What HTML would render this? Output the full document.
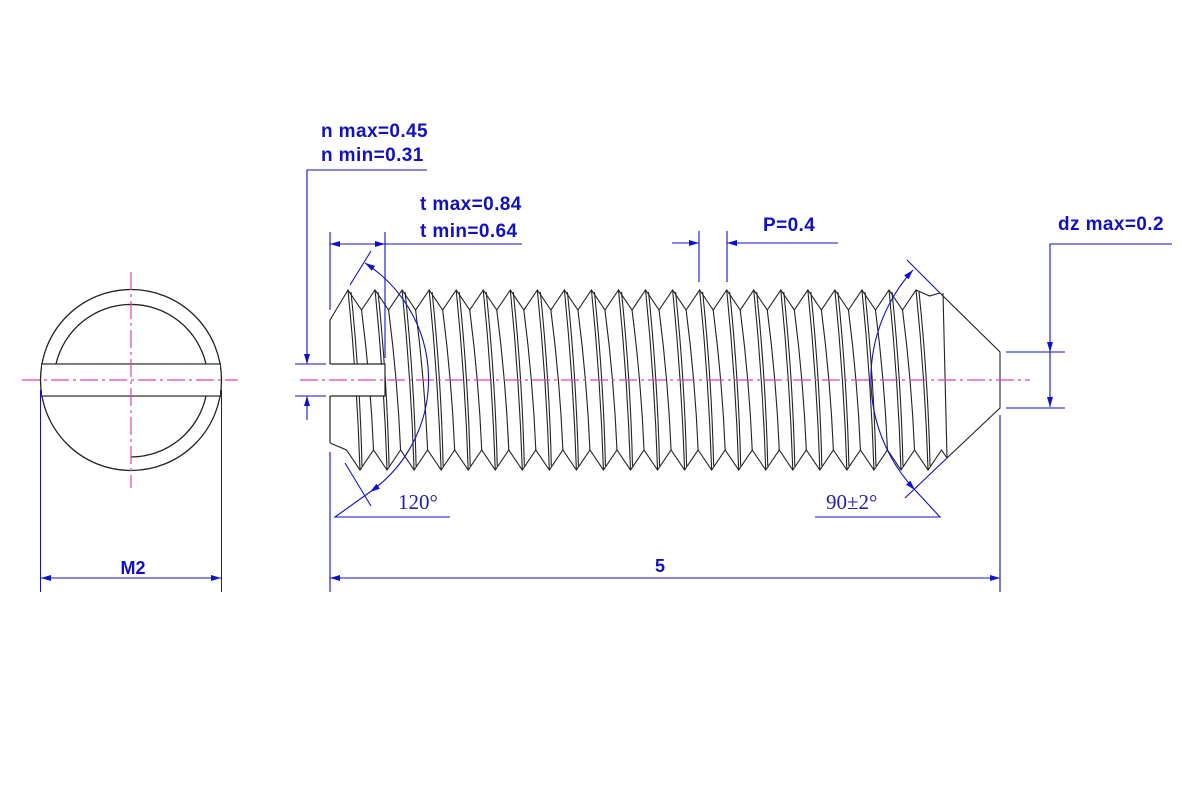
<!DOCTYPE html>
<html><head><meta charset="utf-8"><style>
html,body{margin:0;padding:0;background:#fff;}
svg{display:block}
.t{font-family:"Liberation Sans",Arial,sans-serif;font-weight:bold;font-size:19px;letter-spacing:0.4px;fill:#1010c8}
.m{font-family:"Liberation Sans",Arial,sans-serif;font-weight:bold;font-size:18px;fill:#1010c8}
.s{font-family:"Liberation Serif",serif;font-size:21px;fill:#2020b0}
</style></head><body>
<svg id="sv" width="1200" height="800" viewBox="0 0 1200 800" xmlns="http://www.w3.org/2000/svg">
<defs>
<marker id="a" viewBox="0 0 10 6" refX="10" refY="3" markerWidth="10" markerHeight="6" orient="auto-start-reverse" markerUnits="userSpaceOnUse"><path d="M0,0 L10,3 L0,6 z" fill="#1010d0"/></marker>
</defs>
<!-- left view -->
<g fill="none" stroke="#222" stroke-width="1.3">
<circle cx="131" cy="380" r="90.5"/>
<path d="M56,364 A77,77 0 0 1 206,364"/>
<path d="M206,396 A77,77 0 0 1 131,457"/>
<line x1="41" y1="364" x2="221" y2="364"/>
<line x1="41" y1="396" x2="221" y2="396"/>
</g>
<rect x="42" y="364.7" width="178" height="30.6" fill="#fff"/>
<g stroke="#e040c0" stroke-width="1.2" stroke-dasharray="18,4,3,4" fill="none">
<line x1="22" y1="380" x2="238" y2="380"/>
<line x1="131" y1="272" x2="131" y2="488"/>
</g>
<g stroke="#1010d0" stroke-width="1" fill="none">
<line x1="40.5" y1="390" x2="40.5" y2="592"/>
<line x1="221.5" y1="390" x2="221.5" y2="592"/>
<line x1="41" y1="578" x2="221" y2="578" marker-start="url(#a)" marker-end="url(#a)"/>
</g>
<text class="m" x="133" y="574" text-anchor="middle">M2</text>

<!-- side view threads -->
<g id="th" fill="none" stroke="#222" stroke-width="1.1"></g>
<rect x="331" y="364" width="54" height="32" fill="#fff"/>
<g fill="none" stroke="#222" stroke-width="1.2">
<polyline points="330,364 385,364 385,396 330,396"/>
<line x1="330" y1="320" x2="330" y2="364"/>
<line x1="330" y1="396" x2="330" y2="443"/>
</g>
<g stroke="#e040c0" stroke-width="1.2" stroke-dasharray="18,4,3,4" fill="none">
<line x1="300" y1="380" x2="1030" y2="380"/>
</g>

<!-- dimensions -->
<g stroke="#1010d0" stroke-width="1.1" fill="none">
<polyline points="427,170 307,170 307,364" marker-end="url(#a)"/>
<line x1="307" y1="420" x2="307" y2="396" marker-end="url(#a)"/>
<line x1="295" y1="364" x2="326" y2="364"/>
<line x1="295" y1="396" x2="326" y2="396"/>
<line x1="330" y1="232" x2="330" y2="310"/>
<line x1="385" y1="232" x2="385" y2="358"/>
<line x1="330" y1="244" x2="385" y2="244" marker-start="url(#a)" marker-end="url(#a)"/>
<line x1="385" y1="244" x2="522" y2="244"/>
<line x1="699" y1="231" x2="699" y2="282"/>
<line x1="727" y1="231" x2="727" y2="282"/>
<line x1="672" y1="243" x2="699" y2="243" marker-end="url(#a)"/>
<line x1="838" y1="243" x2="727" y2="243" marker-end="url(#a)"/>
<polyline points="1172,244 1050,244 1050,352" marker-end="url(#a)"/>
<line x1="1050" y1="352" x2="1050" y2="407" marker-end="url(#a)"/>
<line x1="1006" y1="352" x2="1065" y2="352"/>
<line x1="1006" y1="408" x2="1065" y2="408"/>
<line x1="330" y1="452" x2="330" y2="592"/>
<line x1="1000" y1="415" x2="1000" y2="592"/>
<line x1="330" y1="578" x2="1000" y2="578" marker-start="url(#a)" marker-end="url(#a)"/>
<line x1="350" y1="285" x2="371" y2="251"/>
<line x1="345" y1="463" x2="371" y2="506"/>
<path d="M365,263 A138,138 0 0 1 370,492" marker-start="url(#a)" marker-end="url(#a)"/>
<polyline points="370,492 335,517 450,517"/>
<line x1="907" y1="260" x2="940" y2="293"/>
<line x1="905" y1="498" x2="947" y2="458"/>
<path d="M913,270 A162,162 0 0 0 915,490" marker-start="url(#a)" marker-end="url(#a)"/>
<polyline points="915,490 940,517 815,517"/>
</g>
<text class="t" x="321" y="137">n max=0.45</text>
<text class="t" x="321" y="161">n min=0.31</text>
<text class="t" x="420" y="210">t max=0.84</text>
<text class="t" x="420" y="237">t min=0.64</text>
<text class="t" x="763" y="231">P=0.4</text>
<text class="t" x="1058" y="230">dz max=0.2</text>
<text class="m" x="660" y="572" text-anchor="middle">5</text>
<text class="s" x="398" y="509">120°</text>
<text class="s" x="826" y="509">90±2°</text>
</svg>
<script>
(function(){
var g=document.getElementById('th');var P=27.05,c0=348,N=22;
function ln(d){var p=document.createElementNS('http://www.w3.org/2000/svg','path');p.setAttribute('d',d);g.appendChild(p);}
var top='M330,320 L'+c0+',290';
for(var i=0;i<N;i++){var c=c0+i*P;top+=' L'+c+',290 L'+(c+P/2)+','+(i==N-1?296:310);}
top+=' L940,293 L1000,352 L1000,408 L947,458';
var bot='M330,443 L'+(c0-1.5)+',450';
for(var i=0;i<N;i++){var b=c0+12+i*P;bot+=' L'+b+',470 L'+(b+P/2)+',450';}
bot+=' L947,458';
ln(top);ln(bot);
ln('M943,293 L947,458');
for(var i=0;i<N;i++){var c=c0+i*P;
 ln('M'+c+',290 Q'+(c+9)+',380 '+(c+12)+',470');
 ln('M'+(c+3)+',292 Q'+(c+12)+',380 '+(c+14)+',466');
 if(i<N-1) ln('M'+(c+P/2)+',310 Q'+(c+P/2+9)+',380 '+(c+P/2+12)+',450');
}
})();
</script>
</body></html>
